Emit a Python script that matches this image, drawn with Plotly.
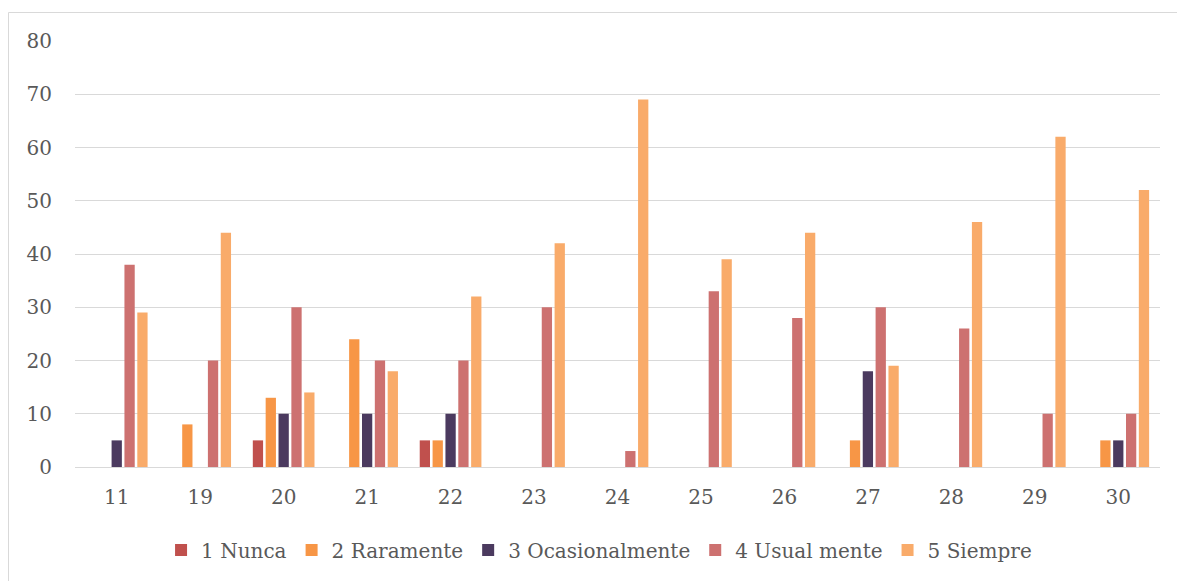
import plotly.graph_objects as go

categories = ["11", "19", "20", "21", "22", "23", "24", "25", "26", "27", "28", "29", "30"]
nunca = [0, 0, 5, 0, 5, 0, 0, 0, 0, 0, 0, 0, 0]
raramente = [0, 8, 13, 24, 5, 0, 0, 0, 0, 5, 0, 0, 5]
ocasionalmente = [5, 0, 10, 10, 10, 0, 0, 0, 0, 18, 0, 0, 5]
usualmente = [38, 20, 30, 20, 20, 30, 3, 33, 28, 30, 26, 10, 10]
siempre = [29, 44, 14, 18, 32, 42, 69, 39, 44, 19, 46, 62, 52]

series = [
    ("1 Nunca", nunca, "#C0504D"),
    ("2 Raramente", raramente, "#F79646"),
    ("3 Ocasionalmente", ocasionalmente, "#4B3A5F"),
    ("4 Usual mente", usualmente, "#CD7170"),
    ("5 Siempre", siempre, "#F9AB6A"),
]

FONT = "DejaVu Serif"
GREY = "#595959"
FS = 20

fig = go.Figure()
for name, vals, color in series:
    fig.add_trace(go.Bar(
        x=categories, y=vals, name=name,
        marker=dict(color=color, line=dict(width=0)),
    ))

W, H = 1177, 581
L, R, T, B = 75, 17, 41, 114
pw, ph = W - L - R, H - T - B

def px(x):
    return (x - L) / pw

def py(y):
    return (H - B - y) / ph

fig.update_layout(
    width=W, height=H,
    margin=dict(l=L, r=R, t=T, b=B, pad=0),
    paper_bgcolor="white", plot_bgcolor="white",
    barmode="group", bargap=0.23, bargroupgap=0.2,
    font=dict(family=FONT, size=FS, color=GREY),
    showlegend=True,
    legend=dict(
        orientation="h", x=0.483, xanchor="center", y=py(550), yanchor="middle",
        font=dict(family=FONT, size=FS, color=GREY),
        itemsizing="constant", traceorder="normal", itemwidth=30,
    ),
    xaxis=dict(
        type="category", showgrid=False, showline=True, linecolor="#D9D9D9",
        linewidth=1, ticks="", ticklabelstandoff=12,
        tickfont=dict(family=FONT, size=FS, color=GREY),
    ),
    yaxis=dict(
        range=[0, 80], dtick=10, showgrid=True, gridcolor="#D9D9D9",
        gridwidth=1, zeroline=False, showline=False, ticks="",
        ticklabelstandoff=22,
        tickfont=dict(family=FONT, size=FS, color=GREY),
    ),
    shapes=[dict(
        type="rect", xref="paper", yref="paper",
        x0=px(8.5), x1=px(1190), y0=py(12.5), y1=py(600),
        line=dict(color="#D9D9D9", width=1), fillcolor="rgba(0,0,0,0)",
        layer="below",
    )],
)

fig.write_html("out.html")
